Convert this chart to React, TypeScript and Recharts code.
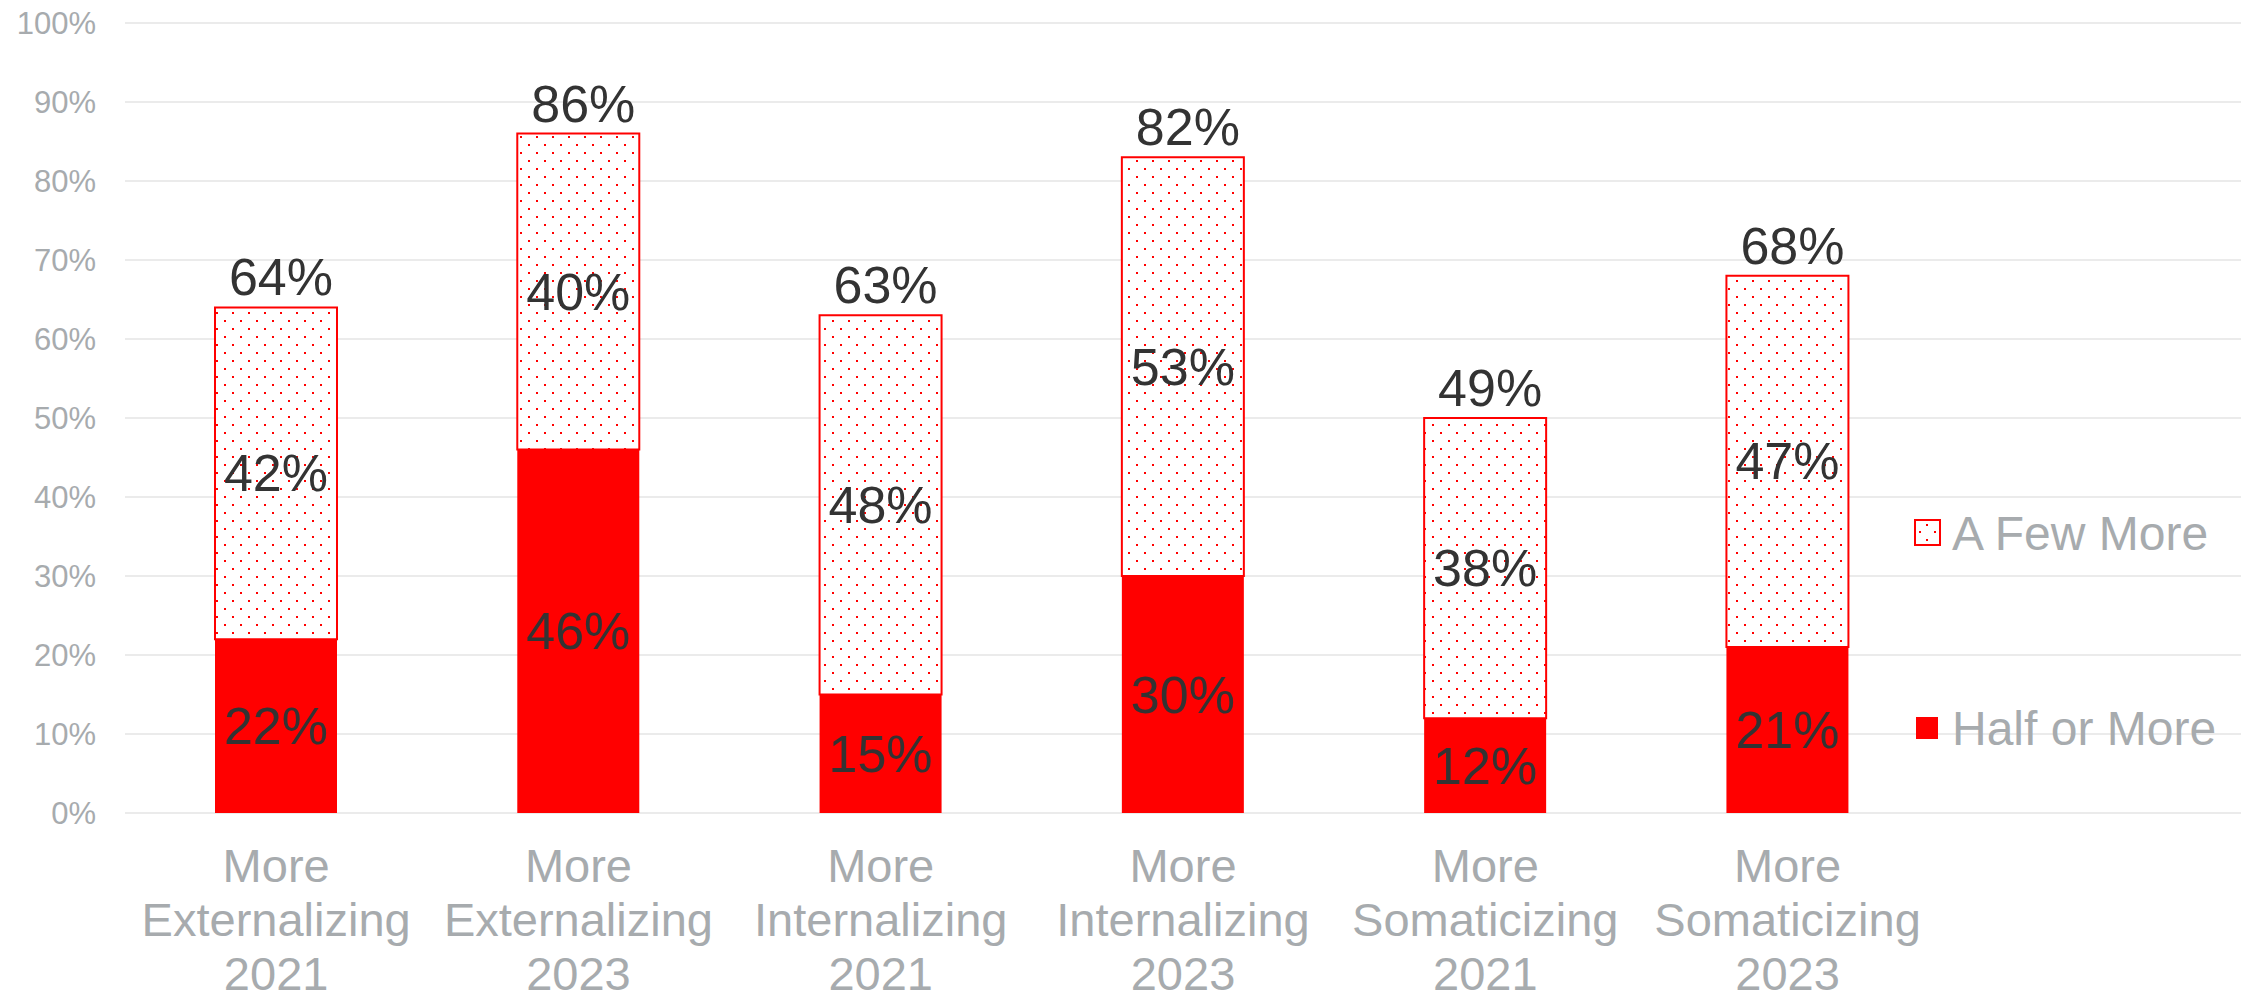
import { BarChart, Bar, XAxis, YAxis, CartesianGrid, LabelList } from "recharts";

const categories = [
  "More Externalizing 2021",
  "More Externalizing 2023",
  "More Internalizing 2021",
  "More Internalizing 2023",
  "More Somaticizing 2021",
  "More Somaticizing 2023",
];
const halfOrMore = [22, 46, 15, 30, 12, 21];
const aFewMore = [42, 40, 48, 53, 38, 47];
const totals = [64, 86, 63, 82, 49, 68];
const yTicks = [0, 10, 20, 30, 40, 50, 60, 70, 80, 90, 100];

const RED = "#FF0000";
const GREY = "#A7ABAE";
const DARK = "#333333";
const FONT = "'Liberation Sans', Arial, sans-serif";

// empty 7th slot leaves room for the legend, like the original
const data = [
  ...categories.map((name, i) => ({
    name,
    half: halfOrMore[i],
    few: aFewMore[i],
    total: totals[i],
  })),
  { name: "", half: null, few: null, total: null },
];

function XTick({ x, y, payload }: any) {
  if (!payload.value) return null;
  const lines = String(payload.value).split(" ");
  return (
    <g>
      {lines.map((line, i) => (
        <text
          key={i}
          x={x}
          y={y + 69 + i * 54}
          textAnchor="middle"
          fontSize={47}
          fontFamily={FONT}
          fill={GREY}
        >
          {line}
        </text>
      ))}
    </g>
  );
}

function YTick({ x, y, payload }: any) {
  return (
    <text
      x={x - 29}
      y={y}
      textAnchor="end"
      dominantBaseline="central"
      fontSize={31}
      fontFamily={FONT}
      fill={GREY}
    >
      {payload.value}%
    </text>
  );
}

function InnerLabel({ x, y, width, height, value }: any) {
  if (value == null) return null;
  return (
    <text
      x={x + width / 2}
      y={y + height / 2}
      textAnchor="middle"
      dominantBaseline="central"
      fontSize={52}
      fontFamily={FONT}
      fill={DARK}
    >
      {value}%
    </text>
  );
}

function TotalLabel({ x, y, width, index }: any) {
  const t = totals[index];
  if (t == null) return null;
  return (
    <text
      x={x + width / 2 + 5}
      y={y - 12}
      textAnchor="middle"
      fontSize={52}
      fontFamily={FONT}
      fill={DARK}
    >
      {t}%
    </text>
  );
}

function LegendBox() {
  return (
    <div
      style={{
        position: "absolute",
        left: 1914,
        top: 503,
        width: 330,
        height: 260,
        fontFamily: FONT,
        color: GREY,
      }}
    >
      <div style={{ position: "absolute", left: 0, top: 0, display: "flex", alignItems: "center", height: 60 }}>
        <svg width={28} height={28} style={{ marginRight: 10 }}>
          <rect x={1} y={1} width={25} height={25} fill="#fff" stroke={RED} strokeWidth={2} />
          <rect x={12} y={5} width={2} height={2} fill={RED} />
          <rect x={5} y={12} width={2} height={2} fill={RED} />
          <rect x={20} y={12} width={2} height={2} fill={RED} />
          <rect x={12} y={20} width={2} height={2} fill={RED} />
        </svg>
        <span style={{ fontSize: 48 }}>A Few More</span>
      </div>
      <div style={{ position: "absolute", left: 0, top: 195, display: "flex", alignItems: "center", height: 60 }}>
        <svg width={28} height={28} style={{ marginRight: 10 }}>
          <rect x={2} y={3} width={22} height={22} fill={RED} />
        </svg>
        <span style={{ fontSize: 48 }}>Half or More</span>
      </div>
    </div>
  );
}

export default function App() {
  return (
    <div style={{ position: "absolute", left: 0, top: 0, width: 2250, height: 1000, background: "#fff" }}>
      <BarChart
        width={2250}
        height={1000}
        data={data}
        margin={{ top: 23, right: 9, bottom: 0, left: 0 }}
        barSize={122}
      >
        <defs>
          <pattern id="dots" width={16} height={16} patternUnits="userSpaceOnUse">
            <rect width={16} height={16} fill="#fff" />
            <rect x={0} y={0} width={2} height={2} fill={RED} />
            <rect x={8} y={8} width={2} height={2} fill={RED} />
          </pattern>
        </defs>
        <CartesianGrid vertical={false} stroke="#EBEBEB" strokeWidth={2} />
        <XAxis
          dataKey="name"
          axisLine={false}
          tickLine={false}
          tickSize={0}
          tickMargin={0}
          height={187}
          interval={0}
          tick={<XTick />}
        />
        <YAxis
          domain={[0, 100]}
          ticks={yTicks}
          axisLine={false}
          tickLine={false}
          tickSize={0}
          tickMargin={0}
          width={125}
          tick={<YTick />}
        />
        <Bar dataKey="half" name="Half or More" stackId="s" fill={RED} isAnimationActive={false}>
          <LabelList dataKey="half" content={<InnerLabel />} />
        </Bar>
        <Bar
          dataKey="few"
          name="A Few More"
          stackId="s"
          fill="url(#dots)"
          stroke={RED}
          strokeWidth={2}
          isAnimationActive={false}
        >
          <LabelList dataKey="few" content={<InnerLabel />} />
          <LabelList dataKey="total" content={<TotalLabel />} />
        </Bar>
      </BarChart>
      <LegendBox />
    </div>
  );
}
